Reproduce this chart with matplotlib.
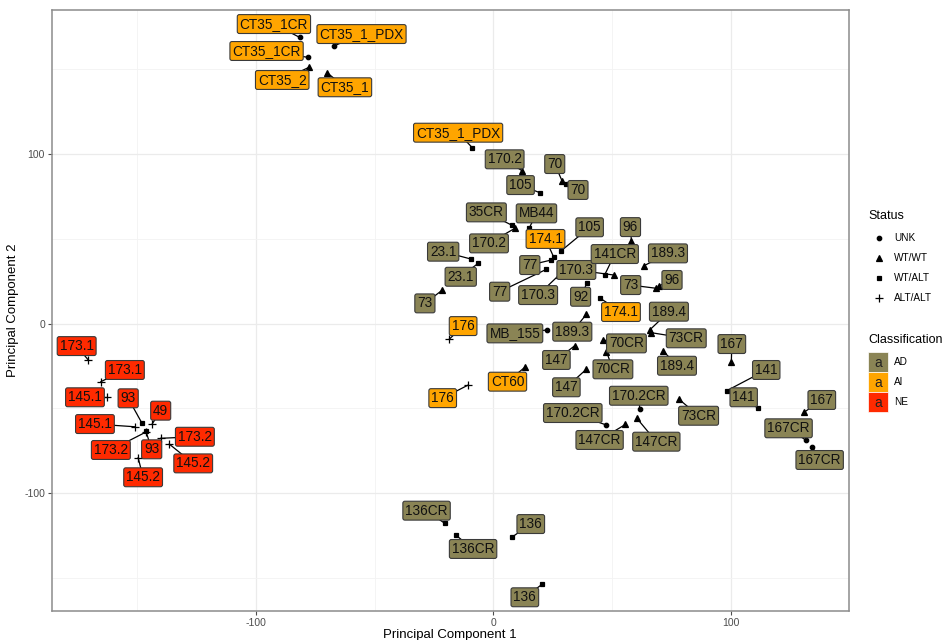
import numpy as np
import matplotlib.pyplot as plt
from matplotlib.patches import Rectangle

plt.rcParams['font.family'] = ['Liberation Sans', 'DejaVu Sans']
plt.rcParams['axes.unicode_minus'] = False

# samples (PCA scores), their status / class and where the repelled label sits
sample = ["CT35_1CR", "CT35_1_PDX", "CT35_1CR", "CT35_2", "CT35_1", "CT35_1_PDX",
          "170.2", "105", "70", "70", "35CR", "170.2", "MB44", "174.1", "105", "96",
          "23.1", "23.1", "73", "77", "77", "170.3", "170.3", "141CR", "189.3", "73",
          "96", "92", "174.1", "189.4", "73CR", "189.4", "MB_155", "189.3", "147",
          "70CR", "70CR", "147", "CT60", "176", "176", "167", "141", "141", "167",
          "167CR", "167CR", "73CR", "170.2CR", "147CR", "170.2CR", "147CR",
          "136CR", "136CR", "136", "136",
          "173.1", "173.1", "145.1", "93", "49", "145.1", "93", "173.2", "173.2",
          "145.2", "145.2"]
pc1 = [-81.5, -67.2, -78.2, -77.6, -70.0, -8.8,
       12.3, 19.6, 29.0, 30.5, 7.7, 9.1, 15.1, 25.5, 28.7, 58.2,
       -9.5, -6.4, -21.4, 24.5, 22.4, 50.9, 27.7, 46.9, 63.5, 68.7,
       69.7, 39.6, 45.1, 65.9, 66.6, 71.5, 22.7, 39.2, 34.3,
       46.2, 47.7, 39.2, 13.3, -18.6, -10.6, 100.3, 98.4, 111.5, 130.9,
       131.6, 134.4, 78.1, 61.7, 60.5, 47.7, 55.7,
       -20.4, -15.8, 8.1, 20.7,
       -170.6, -165.3, -162.6, -148.1, -143.7, -150.9, -146.4, -146.3, -140.1,
       -136.5, -149.6]
pc2 = [168.8, 163.7, 157.1, 151.2, 148.0, 103.7,
       90.0, 77.2, 84.1, 82.3, 58.1, 56.2, 56.2, 39.1, 43.0, 48.7,
       38.1, 35.5, 19.8, 37.5, 32.0, 28.6, 28.6, 28.6, 34.1, 20.8,
       22.1, 24.2, 14.9, -3.8, -5.4, -16.0, -3.8, 5.4, -13.1,
       -9.7, -16.6, -27.0, -25.8, -9.3, -36.3, -22.5, -39.6, -50.0, -52.4,
       -68.7, -72.7, -44.5, -50.4, -55.9, -59.9, -59.5,
       -117.9, -124.8, -125.8, -153.7,
       -21.5, -34.3, -43.5, -58.5, -59.3, -60.9, -63.2, -64.0, -67.7,
       -71.1, -79.2]
status = ["UNK", "UNK", "UNK", "WT/WT", "WT/WT", "WT/ALT",
          "WT/WT", "WT/ALT", "WT/WT", "WT/ALT", "WT/ALT", "WT/WT", "WT/ALT", "WT/ALT", "WT/ALT", "WT/WT",
          "WT/ALT", "WT/ALT", "WT/WT", "WT/ALT", "WT/ALT", "WT/WT", "WT/WT", "WT/ALT", "WT/WT", "WT/WT",
          "WT/WT", "WT/ALT", "WT/ALT", "WT/WT", "WT/WT", "WT/WT", "UNK", "WT/WT", "WT/WT",
          "WT/WT", "WT/WT", "WT/WT", "WT/WT", "ALT/ALT", "ALT/ALT", "WT/WT", "WT/ALT", "WT/ALT", "WT/WT",
          "UNK", "UNK", "WT/WT", "UNK", "WT/WT", "UNK", "WT/WT",
          "WT/ALT", "WT/ALT", "WT/ALT", "WT/ALT",
          "ALT/ALT", "ALT/ALT", "ALT/ALT", "WT/ALT", "ALT/ALT", "ALT/ALT", "WT/ALT", "ALT/ALT", "ALT/ALT",
          "ALT/ALT", "ALT/ALT"]
classification = ["AI"] * 6 + ["AD"] * 7 + ["AI"] + ["AD"] * 14 + ["AI"] + ["AD"] * 9 + \
                 ["AI"] * 3 + ["AD"] * 15 + ["NE"] * 11
label_x = [-92.4, -55.5, -95.5, -88.9, -62.5, -14.8,
           4.8, 11.5, 25.9, 35.7, -2.9, -1.8, 18.2, 22.0, 40.6, 57.8,
           -21.1, -13.7, -28.8, 15.4, 2.7, 35.0, 18.9, 51.2, 73.6, 57.9,
           75.3, 36.8, 53.8, 74.0, 81.3, 77.4, 9.1, 33.3, 26.6,
           56.1, 50.4, 30.8, 6.0, -12.7, -21.3, 100.5, 115.0, 105.5, 138.4,
           124.4, 137.5, 86.5, 61.3, 68.7, 33.5, 44.8,
           -28.1, -8.5, 15.8, 13.3,
           -175.5, -155.2, -172.0, -153.8, -140.1, -167.8, -143.9, -161.1, -125.7,
           -126.4, -147.5]
label_y = [176.7, 170.8, 160.8, 143.7, 139.4, 112.6,
           96.9, 81.7, 94.1, 78.8, 65.6, 47.3, 65.0, 49.9, 56.8, 56.9,
           42.4, 27.6, 11.9, 34.5, 18.8, 31.6, 16.8, 41.0, 41.4, 22.7,
           25.7, 15.8, 6.8, 7.0, -8.7, -24.9, -5.8, -4.8, -21.5,
           -11.7, -27.0, -37.6, -34.3, -1.5, -44.0, -12.1, -27.4, -43.5, -45.1,
           -61.8, -80.5, -54.4, -42.6, -69.7, -52.8, -68.7,
           -110.4, -133.0, -118.3, -161.5,
           -13.3, -27.4, -43.5, -44.1, -51.4, -59.3, -74.2, -74.6, -66.8,
           -82.5, -90.7]

status_levels = ["UNK", "WT/WT", "WT/ALT", "ALT/ALT"]
class_levels = ["AD", "AI", "NE"]

markers = {"UNK": ("o", 3.2), "WT/WT": ("^", 3.8), "WT/ALT": ("s", 3.0), "ALT/ALT": ("+", 6.0)}
fills = {"AD": "#8a8455", "AI": "#ffa500", "NE": "#ff2a00"}

fig = plt.figure(figsize=(9.45, 6.4), dpi=100)
ax = fig.add_axes([0.055, 0.0453, 0.843, 0.9391])

x = np.array(pc1)
y = np.array(pc2)

for s in status_levels:
    m, ms = markers[s]
    sel = np.array([st == s for st in status])
    ax.plot(x[sel], y[sel], ls="none", marker=m, ms=ms, color="black",
            mew=0.9, zorder=3)

# repelled labels: segment from point towards label, box drawn over it
for i in range(len(sample)):
    ax.plot([x[i], label_x[i]], [y[i], label_y[i]], color="black", lw=0.9, zorder=2)
    ax.text(label_x[i], label_y[i], sample[i], ha="center", va="center",
            fontsize=9.8, color="#111111", zorder=5,
            bbox=dict(boxstyle="round,pad=0.18,rounding_size=0.15",
                      fc=fills[classification[i]], ec="#3a3a3a", lw=0.8))

ax.set_xlim(-185.9, 149.7)
ax.set_ylim(-169.6, 185)
ax.set_xticks([-100, 0, 100])
ax.set_yticks([-100, 0, 100])
ax.set_xticks([-150, -50, 50], minor=True)
ax.set_yticks([-150, -50, 50, 150], minor=True)
ax.grid(which="major", color="#ebebeb", lw=0.9, zorder=0)
ax.grid(which="minor", color="#f3f3f3", lw=0.6, zorder=0)
ax.set_axisbelow(True)
ax.tick_params(which="major", length=3, color="#4d4d4d", labelcolor="#4d4d4d",
               labelsize=7.5, pad=2)
ax.tick_params(which="minor", length=0)
for sp in ax.spines.values():
    sp.set_color("#8c8c8c")
    sp.set_linewidth(1.1)
ax.set_xlabel("Principal Component 1", fontsize=9.5, labelpad=1)
ax.set_ylabel("Principal Component 2", fontsize=9.5, labelpad=4)

# legend drawn in figure pixel space
lax = fig.add_axes([0, 0, 1, 1], zorder=10)
lax.set_xlim(0, 945)
lax.set_ylim(640, 0)
lax.axis("off")

lax.text(868, 216, "Status", fontsize=9, va="center", ha="left")
for k, s in enumerate(status_levels):
    yy = 238 + 20 * k
    m, ms = markers[s]
    lax.plot([879], [yy], marker=m, ms=ms, color="black", mew=0.9, ls="none")
    lax.text(894, yy, s, fontsize=7.2, va="center", ha="left")

lax.text(868, 340, "Classification", fontsize=9, va="center", ha="left")
for k, c in enumerate(class_levels):
    yy = 362 + 20 * k
    lax.add_patch(Rectangle((868, yy - 10), 20, 20, fc=fills[c], ec="white", lw=0.5))
    lax.text(878, yy + 1, "a", fontsize=10, va="center", ha="center", color="#222222")
    lax.text(894, yy, c, fontsize=7.2, va="center", ha="left")

fig.savefig("out.png", dpi=100)
